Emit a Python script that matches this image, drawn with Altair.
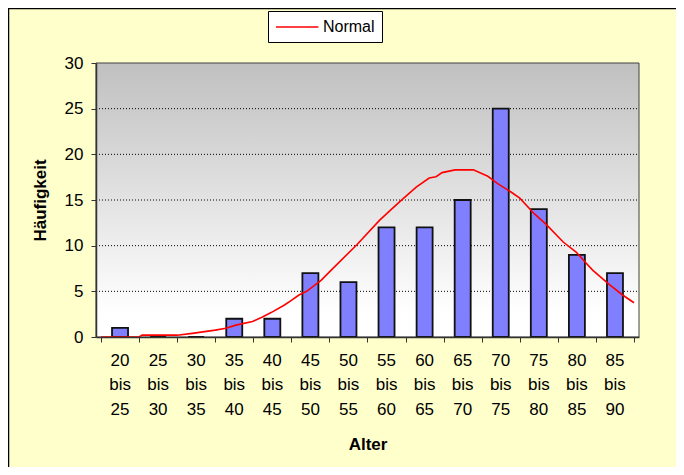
import altair as alt
import pandas as pd

# ---- data ----
bin_lo = [20, 25, 30, 35, 40, 45, 50, 55, 60, 65, 70, 75, 80, 85]
bin_hi = [25, 30, 35, 40, 45, 50, 55, 60, 65, 70, 75, 80, 85, 90]
counts = [1, 0, 0, 2, 2, 7, 6, 12, 12, 15, 25, 14, 9, 7]

curve_age = [20, 25, 25.4, 30, 32, 35, 36.4, 37.7, 39.9, 41.2, 42.4, 44.1, 45, 46, 47,
             48.9, 50.2, 53.6, 56.6, 59.2, 61.4, 63.1, 64, 64.8, 66.5, 68.9, 70.8,
             72.1, 73.8, 75, 76.9, 78.5, 80.7, 82.4, 83.7, 84.6, 86.7, 88.5, 90]
curve_val = [0, 0, 0.2, 0.2, 0.4, 0.75, 0.95, 1.3, 1.7, 2.2, 2.7, 3.5, 4.0, 4.6, 5.0,
             6.2, 7.3, 10.1, 12.8, 14.8, 16.4, 17.4, 17.55, 18.0, 18.3, 18.3, 17.6,
             16.8, 15.9, 15.2, 13.5, 12.3, 10.4, 9.3, 8.1, 7.3, 5.8, 4.6, 3.75]

x_ticks = [20, 25, 30, 35, 40, 45, 50, 55, 60, 65, 70, 75, 80, 85, 90]
y_ticks = [0, 5, 10, 15, 20, 25, 30]
grid_vals = [5, 10, 15, 20, 25]

W, H = 543, 274
FONT = "Liberation Sans"

bars_df = pd.DataFrame({"lo": bin_lo, "hi": bin_hi, "n": counts})
bars_df["mid"] = (bars_df["lo"] + bars_df["hi"]) / 2
bars_df["label"] = [f"{a}\nbis\n{b}" for a, b in zip(bin_lo, bin_hi)]
curve_df = pd.DataFrame({"age": curve_age, "val": curve_val, "s": "Normal"})
grid_df = pd.DataFrame({"v": grid_vals})
one = pd.DataFrame({"a": [0]})

xs = alt.Scale(domain=[20, 90], nice=False, zero=False)
ys = alt.Scale(domain=[0, 30], nice=False)

x_axis = alt.Axis(values=x_ticks, labels=False, ticks=True, tickSize=5,
                  tickColor="#333333", tickWidth=1, domainColor="#333333",
                  domainWidth=1.5, grid=False, titlePadding=94,
                  titleFont=FONT, titleFontSize=17, titleFontWeight="bold",
                  titleColor="#000000", zindex=1)
y_axis = alt.Axis(values=y_ticks, tickSize=5, tickColor="#333333",
                  domainColor="#333333", domainWidth=1.5, grid=False,
                  labelFont=FONT, labelFontSize=17, labelColor="#000000",
                  labelPadding=8, titleFont=FONT, titleFontSize=17,
                  titleFontWeight="bold", titleColor="#000000",
                  titlePadding=15, zindex=1)

frame = alt.Chart(one).mark_rect(
    fill="#FFFFCC", stroke="#000000", strokeWidth=1.5
).encode(
    x=alt.value(-87.5), x2=alt.value(W + 60), y=alt.value(-54.5), y2=alt.value(H + 160)
)

plotbg = alt.Chart(one).mark_rect(
    fill={
        "gradient": "linear", "x1": 0, "y1": 0, "x2": 0, "y2": 1,
        "stops": [
            {"offset": 0, "color": "#C0C0C0"},
            {"offset": 0.91, "color": "#FFFFFF"},
            {"offset": 1, "color": "#FFFFFF"},
        ],
    },
    stroke="#404040", strokeWidth=1,
).encode(x=alt.value(0), x2=alt.value(W), y=alt.value(0), y2=alt.value(H))

grid = alt.Chart(grid_df).mark_rule(
    color="#000000", strokeDash=[1, 2], strokeWidth=1
).encode(
    y=alt.Y("v:Q", scale=ys, title="Häufigkeit", axis=y_axis),
    x=alt.value(0), x2=alt.value(W)
)

bars = alt.Chart(bars_df).mark_bar(
    size=16, fill="#8080FF", stroke="#111111", strokeWidth=1.8
).encode(
    x=alt.X("mid:Q", scale=xs, title="Alter", axis=x_axis),
    y=alt.Y("n:Q", scale=ys, title="Häufigkeit", axis=y_axis),
)

line = alt.Chart(curve_df).mark_line(strokeWidth=1.6).encode(
    x=alt.X("age:Q", scale=xs, title="Alter", axis=x_axis),
    y=alt.Y("val:Q", scale=ys, title="Häufigkeit", axis=y_axis),
    color=alt.Color(
        "s:N",
        scale=alt.Scale(domain=["Normal"], range=["#FF0000"]),
        legend=alt.Legend(
            title=None, orient="none", legendX=172, legendY=-52,
            fillColor="#FFFFFF", strokeColor="#000000", padding=7,
            symbolType="M-1,0H4.3", symbolSize=256, symbolStrokeWidth=1.5,
            labelFont=FONT, labelFontSize=16, labelColor="#000000", labelOffset=30,
        ),
    ),
)

xlabels = alt.Chart(bars_df).mark_text(
    lineBreak="\n", baseline="top", align="center", font=FONT, fontSize=17,
    lineHeight=24.3, color="#000000"
).encode(
    x=alt.X("mid:Q", scale=xs, title="Alter", axis=x_axis),
    y=alt.value(290), text="label:N"
)

chart = alt.layer(frame, plotbg, grid, bars, line, xlabels).properties(
    width=W, height=H,
    autosize=alt.AutoSizeParams(type="none"),
    padding={"left": 88, "top": 55, "right": 37, "bottom": 130},
    background="#FFFFCC",
).configure_view(stroke=None)

chart.save("out.html", embed_options={"renderer": "svg", "actions": False})
